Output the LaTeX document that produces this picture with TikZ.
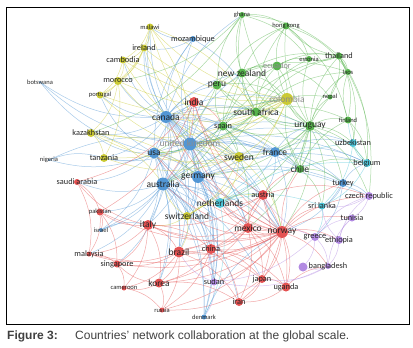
\documentclass[tikz,border=0pt]{standalone}
\usepackage{fontspec}
\newfontfamily\vosfont{Carlito}
\newfontfamily\capfont{Liberation Sans}
\pgfdeclarelayer{edges}
\pgfsetlayers{edges,main}
\definecolor{vred}{RGB}{228,82,82}
\definecolor{vgreen}{RGB}{86,180,76}
\definecolor{vblue}{RGB}{82,150,212}
\definecolor{vyellow}{RGB}{202,202,52}
\definecolor{vpurple}{RGB}{178,138,226}
\definecolor{vcyan}{RGB}{78,196,216}

\begin{document}
\begin{tikzpicture}[x=1pt,y=-1pt,
    nd/.style={circle,fill=#1,inner sep=0pt},
    lbig/.style={font=\vosfont\fontsize{9.5}{10}\selectfont,text=black!85},
    lmid/.style={font=\vosfont\fontsize{8.3}{9}\selectfont,text=black!85},
    lsml/.style={font=\vosfont\fontsize{6.5}{7}\selectfont,text=black!85},
    lgray/.style={text=black!45},
    ed/.style={draw=#1,opacity=.5,line width=.5pt,bend left=18}]
    \useasboundingbox (0,0) rectangle (413,348);
    \draw[line width=.8pt] (6,7) rectangle (409,324);
    % blue cluster
    \node[nd=vblue,minimum size=12,label={[lbig]center:canada}] (can) at (166,117) {};
    \node[nd=vblue,minimum size=13,label={[lbig,lgray]center:united kingdom}] (uk) at (190,144) {};
    \node[nd=vblue,minimum size=11,label={[lbig]center:usa}] (usa) at (154,153) {};
    \node[nd=vblue,minimum size=13,label={[lbig]center:australia}] (aus) at (163,184) {};
    \node[nd=vblue,minimum size=12,label={[lbig]center:germany}] (ger) at (198,177) {};
    \node[nd=vblue,minimum size=10,label={[lbig]center:france}] (fra) at (275,152) {};
    \node[nd=vblue,minimum size=8,label={[lmid]center:turkey}] (tur) at (343,183) {};
    \node[nd=vblue,minimum size=6,label={[lmid]center:mozambique}] (moz) at (193,39) {};
    \node[nd=vblue,minimum size=2,label={[lsml]center:botswana}] (bot) at (40,82) {};
    \node[nd=vblue,minimum size=2,label={[lsml]center:nigeria}] (nga) at (49,160) {};
    \node[nd=vblue,minimum size=4,label={[lsml]center:israel}] (isr) at (101,230) {};
    \node[nd=vblue,minimum size=5,label={[lsml]center:denmark}] (den) at (204,317) {};
    % green cluster
    \node[nd=vgreen,minimum size=10,label={[lbig]center:uruguay}] (uru) at (310,126) {};
    \node[nd=vgreen,minimum size=9,label={[lbig]center:south africa}] (rsa) at (256,112) {};
    \node[nd=vgreen,minimum size=9,label={[lmid]center:spain}] (spa) at (223,126) {};
    \node[nd=vgreen,minimum size=9,label={[lbig]center:new zealand}] (nzl) at (242,73) {};
    \node[nd=vgreen,minimum size=9,label={[lbig]center:peru}] (per) at (217,85) {};
    \node[nd=vgreen,minimum size=9,label={[lmid,lgray]center:ecuador}] (ecu) at (277,66) {};
    \node[nd=vgreen,minimum size=8,label={[lbig]center:chile}] (chi) at (300,169) {};
    \node[nd=vgreen,minimum size=7,label={[lmid]center:thailand}] (tha) at (339,56) {};
    \node[nd=vgreen,minimum size=6,label={[lsml]center:estonia}] (est) at (309,59) {};
    \node[nd=vgreen,minimum size=6,label={[lsml]center:laos}] (lao) at (348,72) {};
    \node[nd=vgreen,minimum size=5,label={[lsml]center:nepal}] (nep) at (330,97) {};
    \node[nd=vgreen,minimum size=7,label={[lsml]center:finland}] (fin) at (348,120) {};
    \node[nd=vgreen,minimum size=7,label={[lsml]center:hong kong}] (hkg) at (286,26) {};
    \node[nd=vgreen,minimum size=6,label={[lsml]center:ghana}] (gha) at (242,15) {};
    % yellow cluster
    \node[nd=vyellow,minimum size=12,label={[lbig,lgray]center:colombia}] (col) at (287,99) {};
    \node[nd=vyellow,minimum size=10,label={[lbig]center:sweden}] (swe) at (239,157) {};
    \node[nd=vyellow,minimum size=8,label={[lbig]center:switzerland}] (sui) at (187,216) {};
    \node[nd=vyellow,minimum size=7,label={[lsml]center:malawi}] (mwi) at (150,27) {};
    \node[nd=vyellow,minimum size=7,label={[lmid]center:ireland}] (irl) at (144,48) {};
    \node[nd=vyellow,minimum size=7,label={[lmid]center:cambodia}] (cam) at (123,60) {};
    \node[nd=vyellow,minimum size=8,label={[lmid]center:morocco}] (mar) at (118,81) {};
    \node[nd=vyellow,minimum size=7,label={[lsml]center:portugal}] (por) at (100,95) {};
    \node[nd=vyellow,minimum size=8,label={[lmid]center:kazakhstan}] (kaz) at (91,133) {};
    \node[nd=vyellow,minimum size=8,label={[lmid]center:tanzania}] (tan) at (104,158) {};
    % red cluster
    \node[nd=vred,minimum size=12,label={[lbig]center:norway}] (nor) at (282,232) {};
    \node[nd=vred,minimum size=10,label={[lbig]center:mexico}] (mex) at (248,228) {};
    \node[nd=vred,minimum size=10,label={[lmid]center:austria}] (aut) at (263,195) {};
    \node[nd=vred,minimum size=10,label={[lbig]center:india}] (ind) at (194,102) {};
    \node[nd=vred,minimum size=10,label={[lbig]center:italy}] (ita) at (148,225) {};
    \node[nd=vred,minimum size=11,label={[lbig]center:brazil}] (bra) at (179,252) {};
    \node[nd=vred,minimum size=10,label={[lmid]center:china}] (chn) at (211,249) {};
    \node[nd=vred,minimum size=9,label={[lbig]center:korea}] (kor) at (159,283) {};
    \node[nd=vred,minimum size=8,label={[lmid]center:japan}] (jpn) at (262,279) {};
    \node[nd=vred,minimum size=9,label={[lmid]center:uganda}] (uga) at (286,287) {};
    \node[nd=vred,minimum size=8,label={[lmid]center:iran}] (irn) at (239,302) {};
    \node[nd=vred,minimum size=6,label={[lmid]center:saudi arabia}] (sau) at (77,182) {};
    \node[nd=vred,minimum size=7,label={[lsml]center:pakistan}] (pak) at (100,212) {};
    \node[nd=vred,minimum size=5,label={[lmid]center:malaysia}] (mys) at (89,254) {};
    \node[nd=vred,minimum size=7,label={[lmid]center:singapore}] (sgp) at (117,264) {};
    \node[nd=vred,minimum size=5,label={[lsml]center:cameroon}] (cmr) at (124,288) {};
    \node[nd=vred,minimum size=5,label={[lsml]center:russia}] (rus) at (162,310) {};
    % purple cluster
    \node[nd=vpurple,minimum size=8,label={[lmid]center:czech republic}] (cze) at (369,196) {};
    \node[nd=vpurple,minimum size=8,label={[lmid]center:greece}] (gre) at (315,237) {};
    \node[nd=vpurple,minimum size=8,label={[lmid]center:ethiopia}] (eth) at (339,240) {};
    \node[nd=vpurple,minimum size=7,label={[lmid]center:tunisia}] (tun) at (352,218) {};
    \node[nd=vpurple,minimum size=9] (bnx) at (303,267) {};
    \node[nd=vpurple,minimum size=6,label={[lmid]center:bangladesh}] (ban) at (328,266) {};
    \node[nd=vpurple,minimum size=7,label={[lmid]center:sudan}] (sud) at (214,282) {};
    % cyan cluster
    \node[nd=vcyan,minimum size=10,label={[lbig]center:netherlands}] (net) at (220,203) {};
    \node[nd=vcyan,minimum size=8,label={[lmid]center:belgium}] (bel) at (367,163) {};
    \node[nd=vcyan,minimum size=8,label={[lmid]center:uzbekistan}] (uzb) at (353,143) {};
    \node[nd=vcyan,minimum size=7,label={[lmid]center:sri lanka}] (sri) at (322,206) {};
    % links
    \begin{pgfonlayer}{edges}
    \foreach \t in {moz,bot,ind,per,spa,rsa,nzl,uru,col,swe,fra,ger,aus,usa,uk,kaz,tan,net,sui,ita,bra,nor,mex,chi,aut,chn,irl,cam,mwi,mar,por,gha}
        \draw[ed=vblue] (can) to (\t);
    \foreach \t in {usa,aus,ger,fra,spa,rsa,nzl,uru,col,net,swe,nor,bra,ita,moz,ind,per,chi,bel,tur,den,sud,isr,sui,mex,mwi,irl,tan,uzb,bot}
        \draw[ed=vblue] (uk) to (\t);
    \foreach \t in {aus,ger,nga,tan,sau,kaz,bra,ita,kor,chn,den,isr,sud,net,fra,ind,moz,bot,por}
        \draw[ed=vblue] (usa) to (\t);
    \foreach \t in {ger,net,bra,chn,den,kor,irn,jpn,mys,sgp,sud,nor,mex,fra,sui,isr,pak,sau}
        \draw[ed=vblue] (aus) to (\t);
    \foreach \t in {fra,net,aut,nor,mex,den,chn,sud,tur,bel,sui,cze}
        \draw[ed=vblue] (ger) to (\t);
    \foreach \t in {bel,tur,uzb,chi,uru,spa,swe,nor,aut,net}
        \draw[ed=vblue] (fra) to (\t);
    \foreach \t in {cze,bel,sri,gre,nor}
        \draw[ed=vblue] (tur) to (\t);
    \foreach \t in {mwi,irl,rsa}
        \draw[ed=vblue] (moz) to (\t);
    \foreach \t in {tan,uk}
        \draw[ed=vblue] (nga) to (\t);
    \draw[ed=vblue] (den) to (nor);
    \draw[ed=vblue] (isr) to (ita);
    \foreach \t in {col,rsa,spa,chi,fra,fin,uzb,tha,lao,nep,est,ecu,nzl,per,hkg,gha,bel,swe,nor,aut,tur,cze,sri,mex,net,ger}
        \draw[ed=vgreen] (uru) to (\t);
    \foreach \t in {spa,nzl,per,col,gha,hkg,ecu,tha,est,lao,nep,fin,chi,ind,uk,aus,usa}
        \draw[ed=vgreen] (rsa) to (\t);
    \foreach \t in {per,nzl,ecu,col,chi,tha,swe,usa,aus,mex,nor}
        \draw[ed=vgreen] (spa) to (\t);
    \foreach \t in {per,ecu,gha,hkg,tha,lao,col,aus}
        \draw[ed=vgreen] (nzl) to (\t);
    \foreach \t in {ecu,col,usa,gha,hkg}
        \draw[ed=vgreen] (per) to (\t);
    \foreach \t in {hkg,tha,est,col,nep}
        \draw[ed=vgreen] (ecu) to (\t);
    \foreach \t in {lao,est,hkg,nep,fin,bel,uzb,cze}
        \draw[ed=vgreen] (tha) to (\t);
    \foreach \t in {hkg,tha,est,kaz,mar}
        \draw[ed=vgreen] (gha) to (\t);
    \foreach \t in {est,lao,fin}
        \draw[ed=vgreen] (hkg) to (\t);
    \foreach \t in {col,nep,fin,bel,tur,sri}
        \draw[ed=vgreen] (chi) to (\t);
    \foreach \t in {bel,uzb,lao}
        \draw[ed=vgreen] (fin) to (\t);
    \draw[ed=vgreen] (nep) to (lao);
    \foreach \t in {swe,sui,mar,cam,irl,mwi,por,kaz,tan,spa,can,uk}
        \draw[ed=vyellow] (col) to (\t);
    \foreach \t in {sui,tan,kaz,mar,por,cam,irl,mwi,usa,ger,nor,net}
        \draw[ed=vyellow] (swe) to (\t);
    \foreach \t in {irl,cam,mar,rsa,uk}
        \draw[ed=vyellow] (mwi) to (\t);
    \foreach \t in {cam,mar,por}
        \draw[ed=vyellow] (irl) to (\t);
    \foreach \t in {mar,por,ind}
        \draw[ed=vyellow] (cam) to (\t);
    \foreach \t in {por,kaz,tan}
        \draw[ed=vyellow] (mar) to (\t);
    \foreach \t in {tan,aus,ger}
        \draw[ed=vyellow] (kaz) to (\t);
    \foreach \t in {net,ita,bra,aus,aut}
        \draw[ed=vyellow] (sui) to (\t);
    \foreach \t in {mex,aut,chn,bra,ita,jpn,uga,irn,kor,gre,eth,ban,tun,sud,sri,net,aus,ger,uk,usa,can,sui,ind,chi,tur,cze,sgp,mys,pak,rus}
        \draw[ed=vred] (nor) to (\t);
    \foreach \t in {aut,chn,bra,jpn,uga,irn,ita,kor,net}
        \draw[ed=vred] (mex) to (\t);
    \foreach \t in {ita,bra,chn,jpn,uga,net,chi,ind,cze}
        \draw[ed=vred] (aut) to (\t);
    \foreach \t in {bra,pak,sgp,mys,kor,cmr,sau,chn}
        \draw[ed=vred] (ita) to (\t);
    \foreach \t in {chn,kor,irn,jpn,sgp,mys,cmr,rus}
        \draw[ed=vred] (bra) to (\t);
    \foreach \t in {kor,jpn,irn,uga,rus}
        \draw[ed=vred] (chn) to (\t);
    \foreach \t in {rus,cmr,sgp,irn}
        \draw[ed=vred] (kor) to (\t);
    \foreach \t in {sau,pak,spa,aus}
        \draw[ed=vred] (ind) to (\t);
    \foreach \t in {pak,mys}
        \draw[ed=vred] (sau) to (\t);
    \foreach \t in {mys,sgp,isr}
        \draw[ed=vred] (pak) to (\t);
    \draw[ed=vred] (mys) to (sgp);
    \draw[ed=vred] (sgp) to (cmr);
    \foreach \t in {uga,irn,rus}
        \draw[ed=vred] (jpn) to (\t);
    \foreach \t in {irn,ban}
        \draw[ed=vred] (uga) to (\t);
    \draw[ed=vred] (cmr) to (rus);
    \foreach \t in {eth,tun,ban,cze,sud,aut,bnx}
        \draw[ed=vpurple] (gre) to (\t);
    \foreach \t in {ban,tun,cze,sri}
        \draw[ed=vpurple] (eth) to (\t);
    \foreach \t in {tun,sri}
        \draw[ed=vpurple] (cze) to (\t);
    \foreach \t in {sud,jpn,tun,bnx}
        \draw[ed=vpurple] (ban) to (\t);
    \foreach \t in {bra,chn,den}
        \draw[ed=vpurple] (sud) to (\t);
    \foreach \t in {bel,uzb,sri,aut,den}
        \draw[ed=vcyan] (net) to (\t);
    \foreach \t in {uzb,sri,fin}
        \draw[ed=vcyan] (bel) to (\t);
    \draw[ed=vcyan] (uzb) to (sri);
    \draw[ed=vcyan] (sri) to (gre);
    \end{pgfonlayer}
    % caption
    \node[anchor=base west,inner sep=0pt,font=\capfont\bfseries\fontsize{12}{14}\selectfont,text=black!75] (fig) at (7,339) {Figure 3:};
    \node[anchor=base west,inner sep=0pt,font=\capfont\fontsize{12}{14}\selectfont,text=black!75] (cap) at (75,339) {Countries’ network collaboration at the global scale.};
\end{tikzpicture}
\end{document}
